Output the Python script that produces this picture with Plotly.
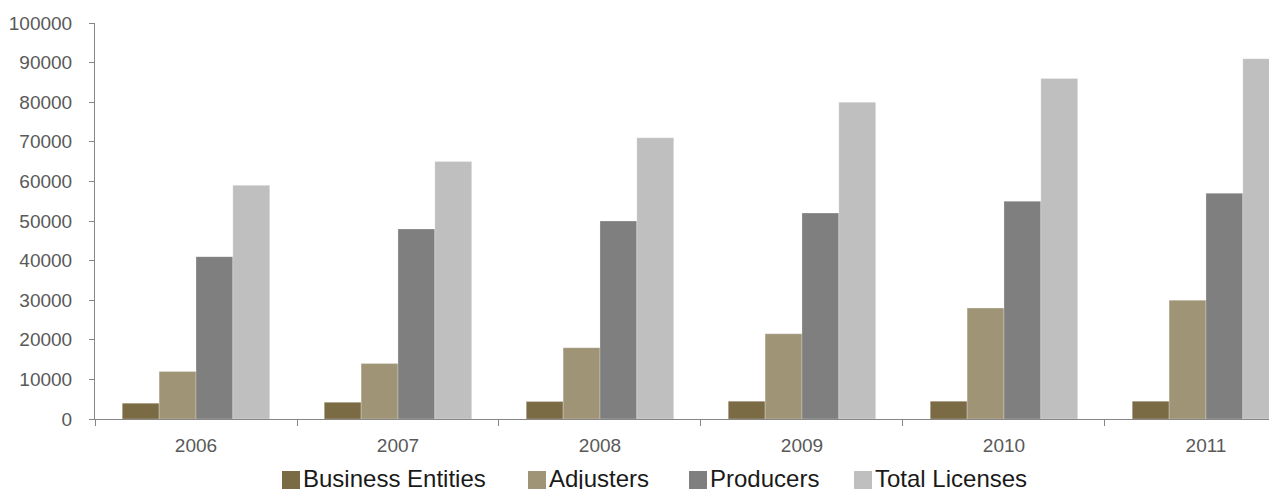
import plotly.graph_objects as go

years = ["2006", "2007", "2008", "2009", "2010", "2011"]
business_entities = [4000, 4200, 4400, 4500, 4500, 4500]
adjusters = [12000, 14000, 18000, 21500, 28000, 30000]
producers = [41000, 48000, 50000, 52000, 55000, 57000]
total_licenses = [59000, 65000, 71000, 80000, 86000, 91000]

series_names = ["Business Entities", "Adjusters", "Producers", "Total Licenses"]
series_values = [business_entities, adjusters, producers, total_licenses]
series_colors = ["#7b6b45", "#a09476", "#7f7f7f", "#bfbfbf"]

# legend item left edges (pixels) for the hand-drawn legend row
legend_px = [282, 528, 689, 854]

W, H = 1269, 489
L, R, T, B = 95, 0, 23, 70
pw, ph = W - L - R, H - T - B


def px_x(p):
    return (p - L) / pw


def px_y(p):
    return (H - B - p) / ph


fig = go.Figure()
for name, vals, color in zip(series_names, series_values, series_colors):
    fig.add_trace(go.Bar(
        x=years, y=vals, name=name, showlegend=False,
        marker=dict(color=color, line=dict(color="rgba(255,255,255,0.5)", width=0.5)),
    ))

sq = 18
for name, color, x0 in zip(series_names, series_colors, legend_px):
    fig.add_shape(type="rect", xref="paper", yref="paper",
                  x0=px_x(x0), x1=px_x(x0 + sq), y0=px_y(471), y1=px_y(471 + sq),
                  fillcolor=color, line=dict(width=0))
    fig.add_annotation(xref="paper", yref="paper", x=px_x(x0 + sq + 1), y=px_y(478),
                       xanchor="left", yanchor="middle", showarrow=False,
                       text=name, font=dict(family="Liberation Sans, Arial, sans-serif",
                                            size=24, color="#1a1a1a"))

fig.update_layout(
    width=W, height=H,
    margin=dict(l=L, r=R, t=T, b=B),
    paper_bgcolor="white", plot_bgcolor="white",
    barmode="group", bargap=0.27, bargroupgap=0,
    font=dict(family="Liberation Sans, Arial, sans-serif", color="#595959", size=19),
    showlegend=False,
    xaxis=dict(
        type="category", range=[-0.5, 5.312],
        showline=True, linecolor="#868686", linewidth=1,
        ticks="outside", tickson="boundaries", ticklen=6, tickcolor="#868686",
        showgrid=False, zeroline=False, ticklabelstandoff=9,
        tickfont=dict(size=19, color="#595959"),
    ),
    yaxis=dict(
        range=[0, 100000], dtick=10000, tickformat="d",
        showline=True, linecolor="#868686", linewidth=1,
        ticks="outside", ticklen=5, tickcolor="#868686",
        showgrid=False, zeroline=False, ticklabelstandoff=13,
        tickfont=dict(size=19, color="#595959"),
    ),
)

fig.write_html("out.html")
